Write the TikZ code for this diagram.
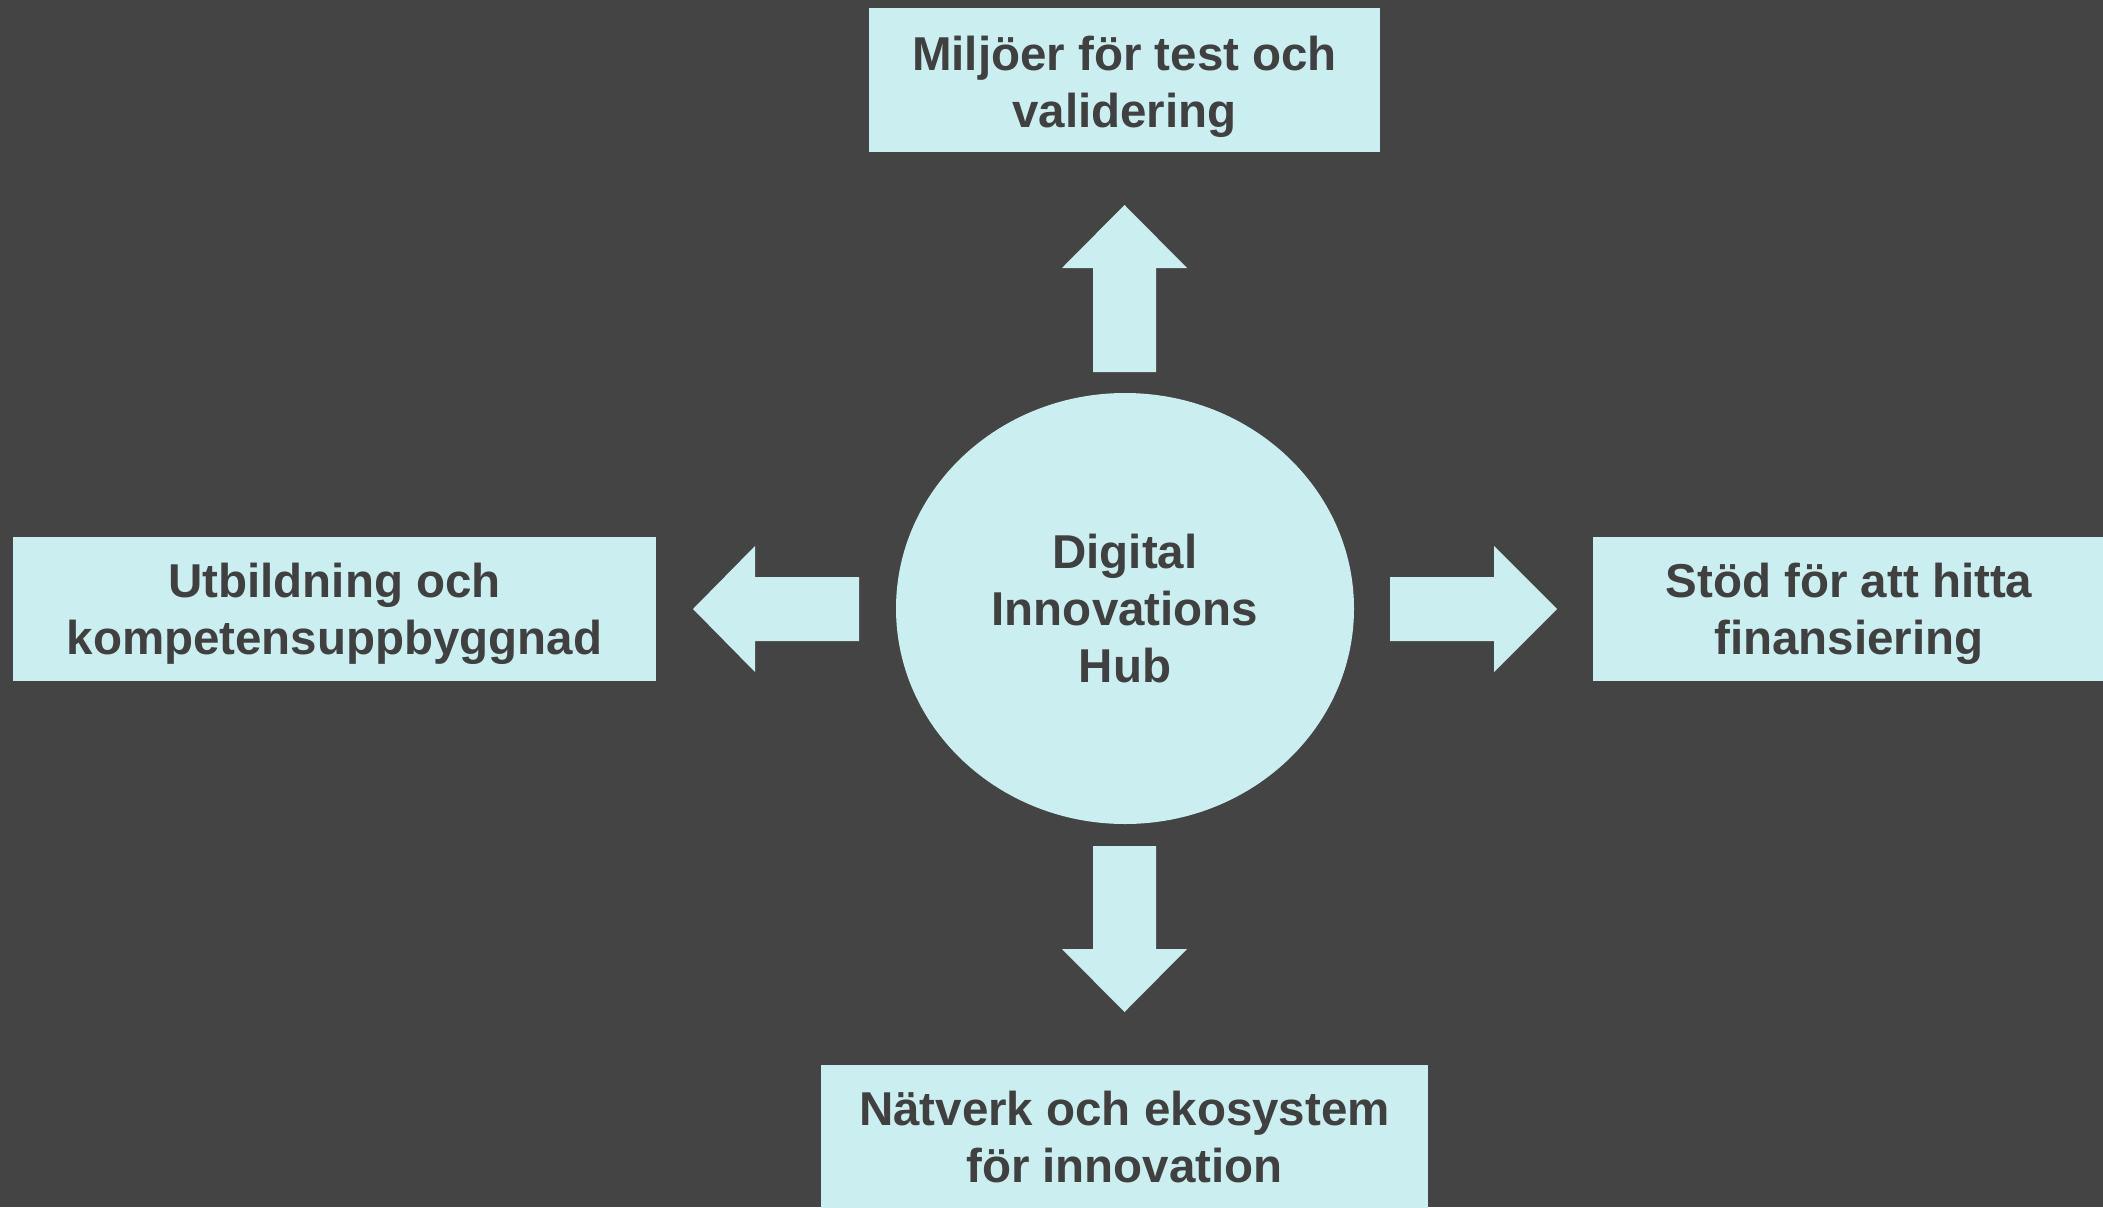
\documentclass[tikz,border=0pt]{standalone}
\usepackage{fontspec}
\setmainfont{Liberation Sans}
\usetikzlibrary{shapes.geometric}
\definecolor{bgc}{HTML}{444444}
\definecolor{boxc}{HTML}{CBEEF0}
\definecolor{txtc}{HTML}{404040}
\begin{document}
\begin{tikzpicture}[x=1pt,y=-1pt,
  lbl/.style={text=txtc,align=center,inner sep=0pt,font=\fontsize{47.5}{57}\selectfont\bfseries},
  topicbox/.style={fill=boxc,draw=none,inner sep=0pt,minimum height=144pt},
  blockarrow/.style={fill=boxc,draw=none}]
\fill[bgc] (0,0) rectangle (2103,1207);
\useasboundingbox (0,0) rectangle (2103,1207);
% centre
\node[lbl,ellipse,fill=boxc,minimum width=458pt,minimum height=431pt] (hub) at (1125,608.5) {Digital\\Innovations\\Hub};
% boxes
\node[topicbox,minimum width=511pt] (top) at (1124.5,80) {};
\node[lbl,yshift=-7pt] (toptext) at (top) {Miljöer för test och\\validering};
\node[topicbox,minimum width=643pt] (left) at (334.5,609) {};
\node[lbl,yshift=-4.5pt] (lefttext) at (left) {Utbildning och\\kompetensuppbyggnad};
\node[topicbox,minimum width=512pt] (right) at (1849,609) {};
\node[lbl,yshift=-4.5pt] (righttext) at (right) {Stöd för att hitta\\finansiering};
\node[topicbox,minimum width=607pt] (bottom) at (1124.5,1137) {};
\node[lbl] (bottomtext) at (bottom) {Nätverk och ekosystem\\för innovation};
% block arrows
\fill[blockarrow] (1093,372) -- (1093,268) -- (1062,268) -- (1124.5,205) -- (1187,268) -- (1156,268) -- (1156,372) -- cycle;
\fill[blockarrow] (1093,846) -- (1093,949) -- (1062,949) -- (1124.5,1012) -- (1187,949) -- (1156,949) -- (1156,846) -- cycle;
\fill[blockarrow] (859,577) -- (755,577) -- (755,546) -- (693,609) -- (755,672) -- (755,641) -- (859,641) -- cycle;
\fill[blockarrow] (1390,577) -- (1494,577) -- (1494,546) -- (1557,609) -- (1494,672) -- (1494,641) -- (1390,641) -- cycle;
\end{tikzpicture}
\end{document}
